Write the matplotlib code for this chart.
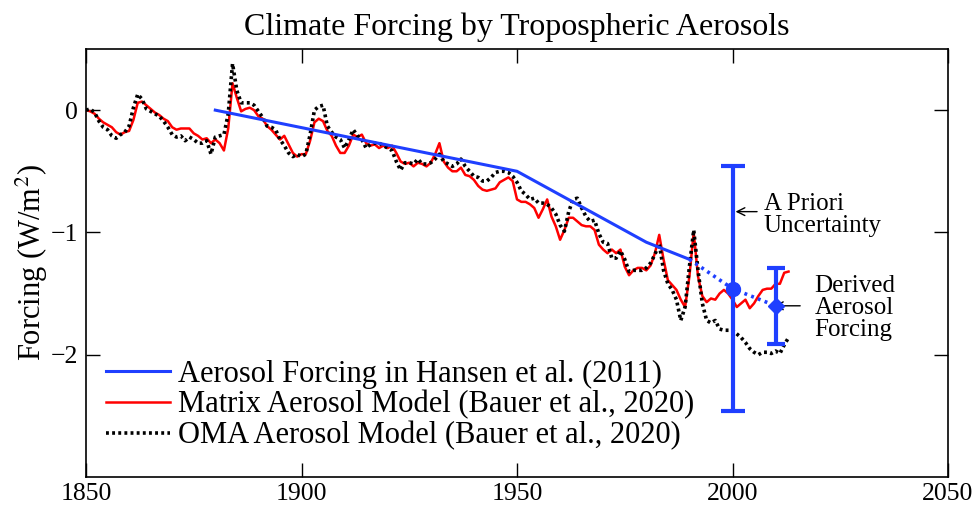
import matplotlib
matplotlib.use("Agg")
import matplotlib.pyplot as plt
import numpy as np

plt.rcParams['font.family'] = ['Liberation Serif', 'DejaVu Serif']
plt.rcParams['mathtext.fontset'] = 'stix'

years = list(range(1850, 2014))

matrix = [
    0.00, -0.01, -0.03, -0.07, -0.10, -0.12, -0.14, -0.18, -0.20, -0.18,   # 1850s
    -0.17, -0.08, 0.06, 0.07, 0.04, 0.01, -0.02, -0.04, -0.07, -0.09,     # 1860s
    -0.14, -0.16, -0.15, -0.15, -0.15, -0.19, -0.21, -0.24, -0.23, -0.27,  # 1870s
    -0.24, -0.27, -0.33, -0.15, 0.22, 0.10, -0.01, 0.01, 0.02, 0.00,      # 1880s
    -0.05, -0.07, -0.13, -0.16, -0.20, -0.24, -0.21, -0.28, -0.35, -0.38,  # 1890s
    -0.36, -0.36, -0.25, -0.10, -0.07, -0.09, -0.17, -0.21, -0.29, -0.35,  # 1900s
    -0.35, -0.29, -0.20, -0.22, -0.20, -0.27, -0.29, -0.28, -0.31, -0.29,  # 1910s
    -0.31, -0.29, -0.35, -0.42, -0.44, -0.43, -0.46, -0.43, -0.44, -0.46,  # 1920s
    -0.43, -0.36, -0.27, -0.42, -0.47, -0.50, -0.50, -0.47, -0.53, -0.54,  # 1930s
    -0.57, -0.62, -0.65, -0.66, -0.65, -0.64, -0.59, -0.57, -0.55, -0.58,  # 1940s
    -0.73, -0.75, -0.75, -0.77, -0.80, -0.88, -0.81, -0.73, -0.87, -0.95,  # 1950s
    -1.06, -0.98, -0.88, -0.88, -0.91, -0.94, -0.95, -0.95, -0.98, -1.10,  # 1960s
    -1.14, -1.17, -1.14, -1.17, -1.14, -1.28, -1.35, -1.31, -1.29, -1.29,  # 1970s
    -1.31, -1.27, -1.17, -1.02, -1.22, -1.39, -1.43, -1.47, -1.55, -1.61,  # 1980s
    -1.36, -1.00, -1.36, -1.52, -1.57, -1.54, -1.55, -1.50, -1.47, -1.50,  # 1990s
    -1.55, -1.61, -1.58, -1.55, -1.62, -1.58, -1.52, -1.47, -1.46, -1.46,  # 2000s
    -1.42, -1.42, -1.33, -1.32,                                            # 2010s
]

oma = [
    0.00, 0.01, -0.02, -0.09, -0.14, -0.16, -0.21, -0.23, -0.20, -0.18,    # 1850s
    -0.13, 0.02, 0.13, 0.09, 0.01, -0.01, -0.03, -0.05, -0.09, -0.14,     # 1860s
    -0.20, -0.22, -0.21, -0.25, -0.22, -0.24, -0.27, -0.27, -0.25, -0.36,  # 1870s
    -0.22, -0.21, -0.20, -0.03, 0.38, 0.16, 0.06, 0.06, 0.06, 0.04,       # 1880s
    -0.01, -0.06, -0.13, -0.14, -0.16, -0.24, -0.29, -0.35, -0.38, -0.36,  # 1890s
    -0.38, -0.36, -0.20, 0.00, 0.03, 0.04, -0.13, -0.18, -0.22, -0.24,    # 1900s
    -0.31, -0.24, -0.16, -0.21, -0.24, -0.31, -0.28, -0.27, -0.27, -0.29,  # 1910s
    -0.31, -0.33, -0.42, -0.49, -0.43, -0.43, -0.44, -0.40, -0.44, -0.44,  # 1920s
    -0.43, -0.40, -0.36, -0.42, -0.44, -0.46, -0.44, -0.40, -0.46, -0.50,  # 1930s
    -0.54, -0.55, -0.58, -0.58, -0.55, -0.51, -0.50, -0.50, -0.51, -0.54,  # 1940s
    -0.59, -0.66, -0.69, -0.73, -0.72, -0.76, -0.76, -0.77, -0.80, -0.85,  # 1950s
    -0.94, -0.99, -0.83, -0.73, -0.72, -0.80, -0.87, -0.91, -0.90, -1.01,  # 1960s
    -1.08, -1.09, -1.21, -1.21, -1.15, -1.22, -1.32, -1.31, -1.31, -1.31,  # 1970s
    -1.29, -1.25, -1.18, -1.09, -1.31, -1.42, -1.47, -1.55, -1.72, -1.61,  # 1980s
    -1.28, -0.98, -1.31, -1.58, -1.72, -1.74, -1.72, -1.79, -1.80, -1.80,  # 1990s
    -1.80, -1.83, -1.86, -1.90, -1.95, -1.98, -2.00, -1.98, -1.98, -1.99,  # 2000s
    -1.97, -1.99, -1.92, -1.86,                                            # 2010s
]

hansen_years = [1880, 1950, 1980, 1990]
hansen_vals = [0.00, -0.50, -1.08, -1.22]

proj_years = [1990, 2000, 2010]
proj_vals = [-1.22, -1.46, -1.60]

prior_year, prior_val, prior_err = 2000, -1.46, 1.00
derived_year, derived_val, derived_err = 2010, -1.60, 0.31

fig = plt.figure(figsize=(9.74, 5.08), dpi=100)
ax = fig.add_axes([86/974, 1-477/508, (948-86)/974, (477-49)/508])

blue = '#1f3fff'
ax.plot(hansen_years, hansen_vals, color=blue, lw=2.2, zorder=3,
        label='Aerosol Forcing in Hansen et al. (2011)')
ax.plot(years, matrix, color='#ff0000', lw=1.8, zorder=2,
        label='Matrix Aerosol Model (Bauer et al., 2020)')
ax.plot(years, oma, color='black', lw=2.6, ls=(0, (0.8, 0.9)), zorder=2.5,
        label='OMA Aerosol Model (Bauer et al., 2020)')
ax.plot(proj_years, proj_vals, color=blue, lw=2.6, ls=(0, (0.8, 1.2)), zorder=3)

ax.errorbar([prior_year], [prior_val], yerr=[prior_err], color=blue, lw=3,
            capsize=8.6, capthick=3, marker='o', ms=10, zorder=4)
ax.errorbar([derived_year], [derived_val], yerr=[derived_err], color=blue, lw=3,
            capsize=6.5, capthick=3, marker='D', ms=8, zorder=4)

arrow = dict(arrowstyle='->', color='black', lw=1, shrinkA=0, shrinkB=0, mutation_scale=14)
ax.annotate('', xy=(2000.7, -0.83), xytext=(2005.7, -0.83), arrowprops=arrow)
ax.text(2007.3, -0.855, 'A Priori\nUncertainty', fontsize=18, va='center', ha='left',
        linespacing=1.0)
ax.annotate('', xy=(2009.6, -1.60), xytext=(2015.7, -1.60), arrowprops=arrow)
ax.text(2019.0, -1.615, 'Derived\nAerosol\nForcing', fontsize=18, va='center', ha='left',
        linespacing=1.0)

ax.set_xlim(1850, 2050)
ax.set_ylim(-3, 0.5)
ax.set_xticks([1850, 1900, 1950, 2000, 2050])
ax.set_yticks([-2, -1, 0])
ax.set_yticklabels(['\u22122', '\u22121', '0'])
ax.tick_params(direction='in', length=10, width=1, labelsize=18.5, top=True, right=True)
ax.tick_params(axis='x', pad=4)
ax.tick_params(axis='y', pad=6)
for s in ax.spines.values():
    s.set_linewidth(1.2)

ax.set_ylabel('Forcing (W/m$^2$)', fontsize=22)
ax.yaxis.set_label_coords(-0.042, 0.5)
ax.set_title('Climate Forcing by Tropospheric Aerosols', fontsize=23, pad=10)

leg = ax.legend(loc='center left', bbox_to_anchor=(20/862, 1-(405-49)/428), frameon=False,
                fontsize=22, handlelength=2.1, handletextpad=0.27, labelspacing=0.05,
                borderaxespad=0, borderpad=0)

fig.savefig('out.png', dpi=100)
